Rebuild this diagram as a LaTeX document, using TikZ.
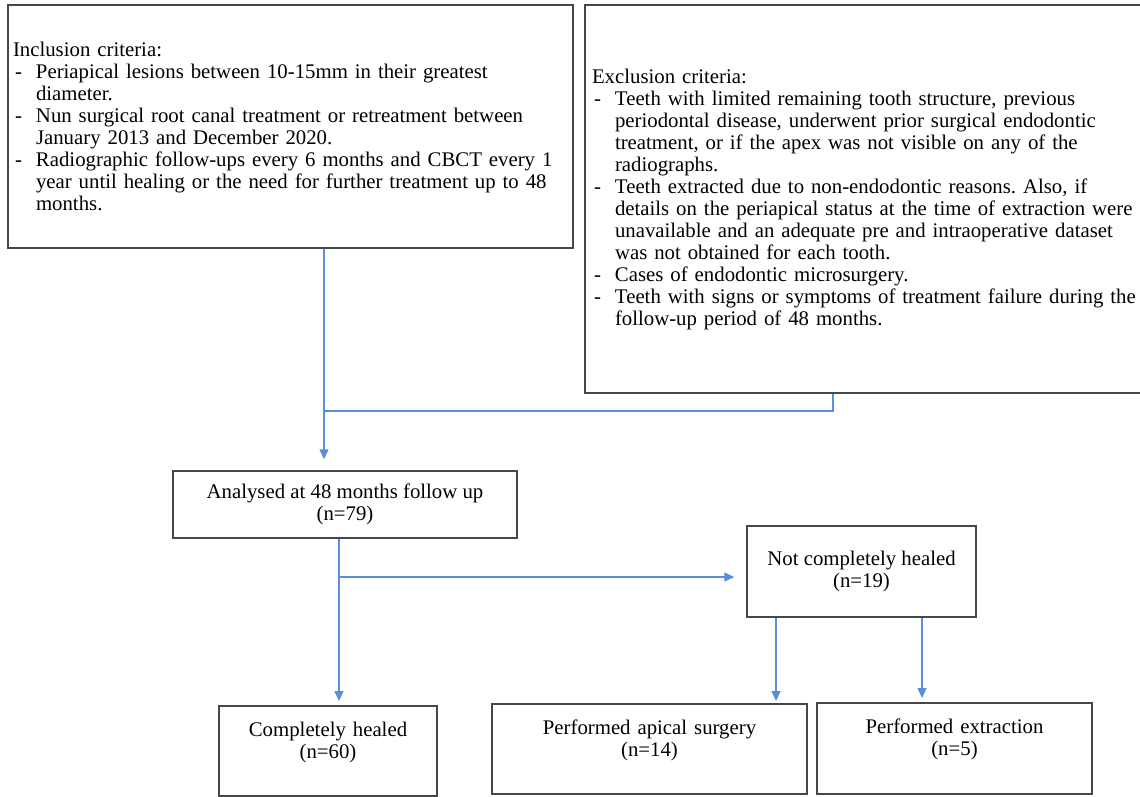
\documentclass[tikz,border=0pt]{standalone}
\usepackage{fontspec}
\setmainfont{Liberation Serif}
\usepackage{xcolor}
\usepackage{tikz}
\usetikzlibrary{arrows.meta}

\definecolor{flowblue}{HTML}{5B8DDB}
\definecolor{boxgray}{HTML}{474747}

\newcommand{\critem}[1]{\par\hangindent=23pt\hangafter=1\noindent\makebox[23pt][l]{\hspace{2pt}-}#1\par}

\tikzset{
	crit/.style={draw=boxgray,line width=1.5pt,inner ysep=0pt,align=left},
	stage/.style={draw=boxgray,line width=1.5pt,align=center},
	result/.style={draw=boxgray,line width=1.5pt,anchor=north,inner sep=0pt,align=center,text height=31pt},
	flow/.style={draw=flowblue,line width=1.4pt},
}

\begin{document}
\frenchspacing
\begin{tikzpicture}[x=1pt,y=-1pt,font=\fontsize{20.8pt}{22pt}\selectfont,>={Triangle[length=10pt,width=9pt]}]
	\path[use as bounding box,clip] (0,0) rectangle (1140,796);
	%
	\node[crit,inner xsep=5pt,text width=555pt,minimum height=243pt] (incl) at (290.5,126.5) {\raggedright Inclusion criteria:
		\critem{Periapical lesions between 10-15mm in their greatest\newline diameter.}
		\critem{Nun surgical root canal treatment or retreatment between\newline January 2013 and December 2020.}
		\critem{Radiographic follow-ups every 6 months and CBCT every 1\newline year until healing or the need for further treatment up to 48\newline months.}};
	\node[crit,inner xsep=7pt,text width=561pt,minimum height=388pt] (excl) at (872.5,199) {\raggedright Exclusion criteria:
		\critem{Teeth with limited remaining tooth structure, previous\newline periodontal disease, underwent prior surgical endodontic\newline treatment, or if the apex was not visible on any of the\newline radiographs.}
		\critem{Teeth extracted due to non-endodontic reasons. Also, if\newline details on the periapical status at the time of extraction were\newline unavailable and an adequate pre and intraoperative dataset\newline was not obtained for each tooth.}
		\critem{Cases of endodontic microsurgery.}
		\critem{Teeth with signs or symptoms of treatment failure during the\newline follow-up period of 48 months.}};
	%
	\node[stage,minimum width=344pt,minimum height=67pt] (ana) at (345,504.5) {Analysed at 48 months follow up\\(n=79)};
	\node[stage,minimum width=229pt,minimum height=91pt] (nch) at (861.5,571.5) {Not completely healed\\(n=19)};
	%
	\node[result,text width=218pt,text depth=59pt] (ch) at (328,705) {Completely healed\\(n=60)};
	\node[result,text width=315pt,text depth=59pt] (aps) at (649.5,703) {Performed apical surgery\\(n=14)};
	\node[result,text width=275pt,text depth=60pt] (ext) at (954.5,702) {Performed extraction\\(n=5)};
	%
	\coordinate (j1) at (324,411);
	\coordinate (j2) at (833,411);
	\coordinate (j3) at (339,577);
	%
	\draw[flow] (incl.south -| j1) -- (j1);
	\draw[flow] (excl.south -| j2) -- (j2) -- (j1);
	\draw[flow,->,shorten >=11pt] (j1) -- (ana.north -| j1);
	\draw[flow] (ana.south -| j3) -- (j3);
	\draw[flow,->,shorten >=4pt] (j3) -- (ch.north -| j3);
	\draw[flow,->,shorten >=12pt] (j3) -- (j3 -| nch.west);
	\draw[flow,->,shorten >=2pt] ([xshift=-85.5pt]nch.south) -- ([xshift=-85.5pt]nch.south |- aps.north);
	\draw[flow,->,shorten >=4pt] ([xshift=60.5pt]nch.south) -- ([xshift=60.5pt]nch.south |- ext.north);
\end{tikzpicture}
\end{document}
